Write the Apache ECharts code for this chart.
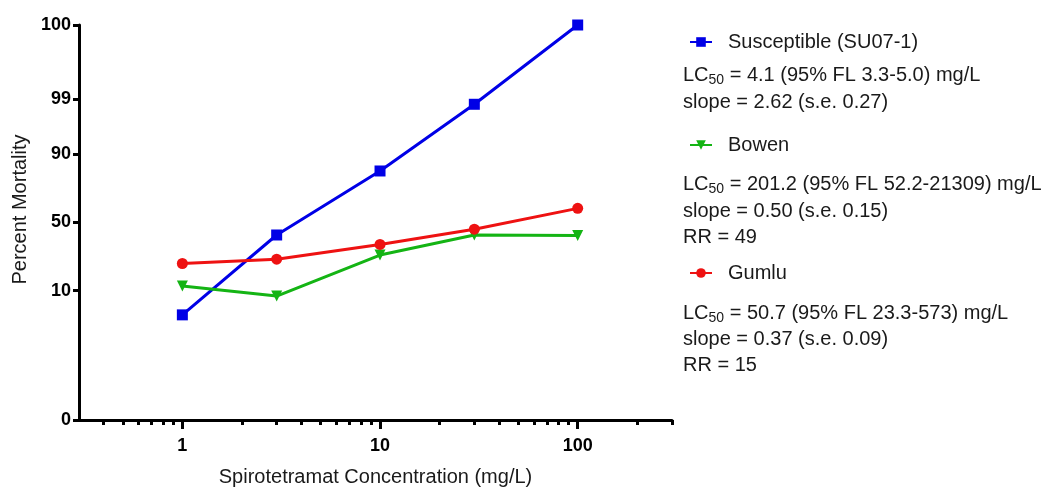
<!DOCTYPE html>
<html>
<head>
<meta charset="utf-8">
<script src="https://cdn.jsdelivr.net/npm/echarts@6/dist/echarts.min.js"></script>
<style>
  html, body { margin: 0; padding: 0; background: #fff; }
  #chart { width: 1058px; height: 488px; }
</style>
</head>
<body>
<div id="chart"></div>
<script>
// concentrations (mg/L) and percent mortality
const concentrations = [1, 3, 10, 30, 100];
const susceptible = [4.1, 40.7, 83.4, 98.7, 100];
const bowen = [11.6, 8.3, 27, 40.7, 40.4];
const gumlu = [22, 24.5, 34, 45, 60.5];

const seriesNames = ['Susceptible (SU07-1)', 'Bowen', 'Gumlu'];
const seriesColors = ['#0000e6', '#14b414', '#ee1212'];

// axis ticks
const yTickLabels = [0, 10, 50, 90, 99, 100];
const xMajorTicks = [1, 10, 100];
const xMinorTicks = [0.4, 0.5, 0.6, 0.7, 0.8, 0.9, 2, 3, 4, 5, 6, 7, 8, 9,
  20, 30, 40, 50, 60, 70, 80, 90, 200, 300];
const xMin = 0.3, xMax = 300;

// legend side notes
const statLines = [
  { y: 74, text: 'LC{sub|50} = 4.1 (95% FL 3.3-5.0) mg/L' },
  { y: 101, text: 'slope = 2.62 (s.e. 0.27)' },
  { y: 183, text: 'LC{sub|50} = 201.2 (95% FL 52.2-21309) mg/L' },
  { y: 210, text: 'slope = 0.50 (s.e. 0.15)' },
  { y: 236, text: 'RR = 49' },
  { y: 312, text: 'LC{sub|50} = 50.7 (95% FL 23.3-573) mg/L' },
  { y: 338, text: 'slope = 0.37 (s.e. 0.09)' },
  { y: 364, text: 'RR = 15' }
];
const legendTops = [27, 130, 258];

// inverse normal CDF (Acklam) for the probit axis
function probit(pct) {
  let p = Math.min(Math.max(pct, 0.01), 99.99) / 100;
  const a = [-3.969683028665376e+01, 2.209460984245205e+02, -2.759285104469687e+02,
    1.383577518672690e+02, -3.066479806614716e+01, 2.506628277459239e+00];
  const b = [-5.447609879822406e+01, 1.615858368580409e+02, -1.556989798598866e+02,
    6.680131188771972e+01, -1.328068155288572e+01];
  const c = [-7.784894002430293e-03, -3.223964580411365e-01, -2.400758277161838e+00,
    -2.549671180121519e+00, 4.374664141464968e+00, 2.938163982698783e+00];
  const d = [7.784695709041462e-03, 3.224671290700398e-01, 2.445134137963883e+00,
    3.754408661907416e+00];
  const plow = 0.02425;
  let q, r;
  if (p < plow) {
    q = Math.sqrt(-2 * Math.log(p));
    return (((((c[0] * q + c[1]) * q + c[2]) * q + c[3]) * q + c[4]) * q + c[5]) /
      ((((d[0] * q + d[1]) * q + d[2]) * q + d[3]) * q + 1);
  }
  if (p > 1 - plow) {
    q = Math.sqrt(-2 * Math.log(1 - p));
    return -(((((c[0] * q + c[1]) * q + c[2]) * q + c[3]) * q + c[4]) * q + c[5]) /
      ((((d[0] * q + d[1]) * q + d[2]) * q + d[3]) * q + 1);
  }
  q = p - 0.5;
  r = q * q;
  return (((((a[0] * r + a[1]) * r + a[2]) * r + a[3]) * r + a[4]) * r + a[5]) * q /
    (((((b[0] * r + b[1]) * r + b[2]) * r + b[3]) * r + b[4]) * r + 1);
}

const yTickValues = yTickLabels.map(probit);
const yLabelFor = v => {
  let best = 0;
  yTickValues.forEach((t, i) => {
    if (Math.abs(t - v) < Math.abs(yTickValues[best] - v)) best = i;
  });
  return String(yTickLabels[best]);
};

const toPoints = pcts => concentrations.map((c, i) => [Math.log10(c), probit(pcts[i])]);

const chart = echarts.init(document.getElementById('chart'), null, { renderer: 'canvas' });

const FONT = 'Liberation Sans, Arial, sans-serif';

const option = {
  animation: false,
  backgroundColor: '#fff',
  grid: { left: 79, right: 386, top: 25, bottom: 68, containLabel: false, outerBoundsMode: 'none' },
  legend: seriesNames.map((name, i) => ({
    data: [name],
    left: 684,
    top: legendTops[i],
    itemWidth: 22,
    itemHeight: 12,
    textStyle: { fontFamily: FONT, fontSize: 20, color: '#1a1a1a', padding: [0, 0, 0, 11] },
    selectedMode: false
  })),
  xAxis: [
    {
      type: 'value',
      min: Math.log10(xMin),
      max: Math.log10(xMax),
      name: 'Spirotetramat Concentration (mg/L)',
      nameLocation: 'middle',
      nameGap: 47,
      nameTextStyle: { fontFamily: FONT, fontSize: 20, color: '#1a1a1a' },
      axisLine: { onZero: false, lineStyle: { color: '#000', width: 3 } },
      axisTick: { customValues: xMinorTicks.map(Math.log10), length: 5, lineStyle: { color: '#000', width: 3 } },
      axisLabel: { show: false },
      splitLine: { show: false }
    },
    {
      type: 'value',
      position: 'bottom',
      min: Math.log10(xMin),
      max: Math.log10(xMax),
      axisLine: { show: false, onZero: false },
      axisTick: { show: true, customValues: xMajorTicks.map(Math.log10), length: 9, lineStyle: { color: '#000', width: 3 } },
      axisLabel: {
        customValues: xMajorTicks.map(Math.log10),
        formatter: v => String(Math.round(Math.pow(10, v))),
        margin: 17,
        fontFamily: FONT,
        fontWeight: 'bold',
        fontSize: 18,
        color: '#000'
      },
      splitLine: { show: false }
    }
  ],
  yAxis: {
    type: 'value',
    min: probit(0),
    max: probit(100),
    name: 'Percent Mortality',
    nameLocation: 'middle',
    nameGap: 48,
    nameTextStyle: { fontFamily: FONT, fontSize: 20, color: '#1a1a1a', padding: [0, 0, 0, 26] },
    axisLine: { show: true, onZero: false, lineStyle: { color: '#000', width: 3 } },
    axisTick: { show: true, customValues: yTickValues, length: 6, lineStyle: { color: '#000', width: 3 } },
    axisLabel: {
      customValues: yTickValues,
      formatter: yLabelFor,
      margin: 8,
      fontFamily: FONT,
      fontWeight: 'bold',
      fontSize: 18,
      color: '#000'
    },
    splitLine: { show: false }
  },
  series: [
    { data: toPoints(susceptible), symbol: 'rect', symbolSize: 11 },
    { data: toPoints(bowen), symbol: 'triangle', symbolRotate: 180, symbolSize: 11 },
    { data: toPoints(gumlu), symbol: 'circle', symbolSize: 11 }
  ].map((s, i) => ({
    ...s,
    name: seriesNames[i],
    type: 'line',
    xAxisIndex: 0,
    color: seriesColors[i],
    lineStyle: { width: 3, color: seriesColors[i] },
    itemStyle: { color: seriesColors[i] },
    z: 5
  })),
  graphic: statLines.map(line => ({
    type: 'text',
    left: 683,
    top: line.y - 9,
    style: {
      text: line.text,
      fontFamily: FONT,
      fontSize: 20,
      fill: '#1a1a1a',
      rich: {
        sub: { fontFamily: FONT, fontSize: 14, padding: [10, 0, 0, 0], fill: '#1a1a1a' }
      }
    }
  }))
};

chart.setOption(option);
</script>
</body>
</html>
